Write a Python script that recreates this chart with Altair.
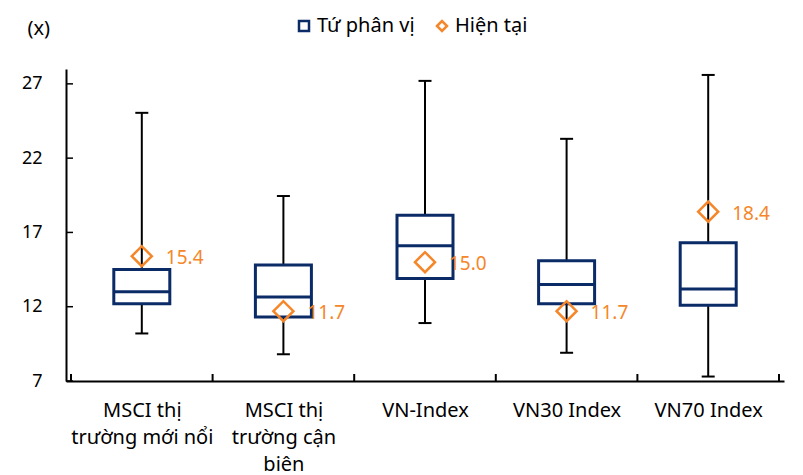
import json
import altair as alt
import pandas as pd

# ---- data ----
cat_lines = [
    ["MSCI thị", "trường mới nổi"],
    ["MSCI thị", "trường cận", "biên"],
    ["VN-Index"],
    ["VN30 Index"],
    ["VN70 Index"],
]
whisker_low = [10.2, 8.8, 10.9, 8.9, 7.3]
q1 = [12.2, 11.3, 13.9, 12.2, 12.1]
median = [13.0, 12.65, 16.1, 13.5, 13.2]
q3 = [14.5, 14.8, 18.15, 15.1, 16.3]
whisker_high = [25.05, 19.45, 27.2, 23.3, 27.6]
current = [15.4, 11.7, 15.0, 11.7, 18.4]
y_ticks = [7, 12, 17, 22, 27]
legend_names = ["Tứ phân vị", "Hiện tại"]
unit_label = "(x)"

NAVY = "#0B2B67"
ORANGE = "#F5872A"
FONT = "Noto Sans"

n = len(cat_lines)
df = pd.DataFrame({
    "pos": [i + 0.5 for i in range(n)],
    "lo": whisker_low, "q1": q1, "med": median, "q3": q3, "hi": whisker_high,
    "cur": current, "series": [legend_names[1]] * n,
})
ticks_df = pd.DataFrame({"v": y_ticks})
bounds_df = pd.DataFrame({"b": list(range(n + 1))})

label_expr = ""
for i, lines in enumerate(cat_lines):
    label_expr += f"datum.value == {i + 0.5} ? {json.dumps(lines, ensure_ascii=False)} : "
label_expr += "''"

W, H = 718, 312

x_scale = alt.Scale(domain=[0, n], nice=False, zero=False)
y_scale = alt.Scale(domain=[7, 28], nice=False, zero=False)

x_enc = alt.X("pos:Q", scale=x_scale, axis=alt.Axis(
    values=[i + 0.5 for i in range(n)], labelExpr=label_expr, title=None,
    grid=False, ticks=False, labelFontSize=20, labelFont=FONT, labelColor="#000",
    labelPadding=19, labelLineHeight=27, labelBaseline="top", labelFlush=False,
    labelOverlap=False, domainColor="#000", domainWidth=2))
y_axis = alt.Axis(values=y_ticks, title=unit_label, titleAngle=0, titleAlign="left",
                  titleBaseline="middle", titleX=-39, titleY=-41, titleFont=FONT,
                  titleFontSize=20, titleFontWeight="normal", titleColor="#000",
                  grid=False, ticks=False,
                  labelFontSize=18, labelFont=FONT, labelColor="#000",
                  labelPadding=24, domainColor="#000", domainWidth=2)

legend = alt.Legend(title=None, orient="none", direction="horizontal",
                    legendX=228, legendY=-53, padding=0,
                    symbolSize=100, symbolStrokeWidth=2.5,
                    labelFontSize=20, labelFont=FONT, labelColor="#000",
                    labelOffset=3, columnPadding=17)

base = alt.Chart(df)

whisk_lo = base.mark_rule(color="#000", strokeWidth=2).encode(
    x=x_enc, y=alt.Y("lo:Q", scale=y_scale, axis=y_axis), y2="q1:Q")
whisk_hi = base.mark_rule(color="#000", strokeWidth=2).encode(
    x="pos:Q", y="q3:Q", y2="hi:Q")
cap_lo = base.mark_tick(color="#000", size=13, thickness=2, opacity=1,
                        orient="horizontal").encode(x="pos:Q", y="lo:Q")
cap_hi = base.mark_tick(color="#000", size=13, thickness=2, opacity=1,
                        orient="horizontal").encode(x="pos:Q", y="hi:Q")
box = base.mark_bar(size=56, fill="white", stroke=NAVY, strokeWidth=3).encode(
    x="pos:Q", y="q1:Q", y2="q3:Q")
med = base.mark_tick(color=NAVY, size=56, thickness=3, opacity=1,
                     orient="horizontal").encode(x="pos:Q", y="med:Q")
pts = base.mark_point(filled=False, strokeWidth=2.5, size=400, opacity=1).encode(
    x="pos:Q", y="cur:Q",
    shape=alt.Shape("series:N", scale=alt.Scale(domain=legend_names, range=["square", "diamond"]),
                    legend=legend),
    stroke=alt.Stroke("series:N", scale=alt.Scale(domain=legend_names, range=[NAVY, ORANGE]),
                      legend=legend),
)
lbl = base.mark_text(align="left", baseline="middle", dx=24, dy=2, fontSize=19,
                     font=FONT, color=ORANGE).encode(
    x="pos:Q", y="cur:Q", text=alt.Text("cur:Q", format=".1f"))

ytick_marks = alt.Chart(ticks_df).mark_rule(color="#000", strokeWidth=1.5).encode(
    y="v:Q", x=alt.value(0), x2=alt.value(7))
xtick_marks = alt.Chart(bounds_df).mark_rule(color="#000", strokeWidth=2).encode(
    x="b:Q", y=alt.value(H), y2=alt.value(H - 7))

chart = alt.layer(
    whisk_lo, whisk_hi, cap_lo, cap_hi, box, med, pts, lbl, ytick_marks, xtick_marks
).properties(
    width=W, height=H,
    autosize=alt.AutoSizeParams(type="none"),
    padding={"left": 58, "top": 61, "right": 10, "bottom": 94},
).configure_view(stroke=None)

chart.save("out.html", embed_options={"renderer": "svg", "actions": False})
